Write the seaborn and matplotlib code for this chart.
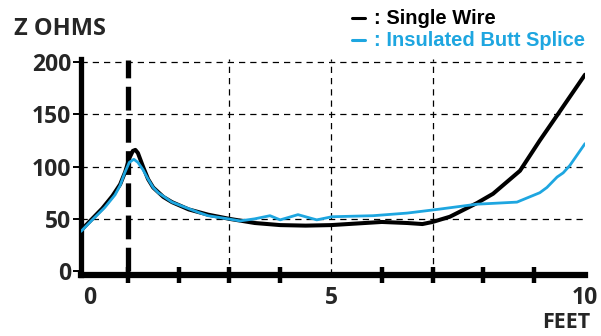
import matplotlib.pyplot as plt
import seaborn as sns
import numpy as np
import pandas as pd
from matplotlib.lines import Line2D

# distance along the line (feet) and impedance (ohms)
single_x = [0.08, 0.3, 0.5, 0.7, 0.85, 0.95, 1.03, 1.1, 1.15, 1.2, 1.3, 1.4, 1.5,
            1.7, 1.87, 2.2, 2.58, 3.0, 3.5, 4.0, 4.5, 5.0, 5.5, 6.0, 6.5, 6.8,
            7.0, 7.34, 7.87, 8.19, 8.72, 9.11, 9.45, 10.0]
single_z = [39, 50, 60, 72, 83, 95, 108, 115, 116, 113, 100, 88, 80,
            71, 66, 59, 54, 50, 46, 44, 43.5, 44, 45.5, 47, 46, 45,
            47, 52, 65, 74, 96, 125, 149, 188]

splice_x = [0.08, 0.3, 0.55, 0.75, 0.85, 0.94, 1.03, 1.12, 1.2, 1.3, 1.4, 1.5,
            1.6, 1.75, 1.87, 2.13, 2.4, 2.58, 2.97, 3.21, 3.5, 3.8, 4.0, 4.35,
            4.72, 5.02, 5.83, 6.5, 7.09, 7.87, 8.66, 9.11, 9.25, 9.45, 9.57,
            9.7, 10.0]
splice_z = [38, 49, 61, 73, 82, 94, 104, 107, 104, 97, 88, 80,
            75, 70, 66, 61, 56, 53, 50, 48, 50, 53, 49, 54,
            49, 52, 53, 55.5, 59, 64, 66, 75, 80, 90, 94,
            101, 122]

y_ticks = [0, 50, 100, 150, 200]
x_labels = ['0', '5', '10']
marker_x = 1.0
blue = '#1ea6e0'

sns.set_style("white")
plt.rcParams['font.family'] = ['Open Sans', 'DejaVu Sans']

fig = plt.figure(figsize=(6.01, 3.36), dpi=100)
ax = fig.add_axes([0.1348, 0.1824, 0.8386, 0.642])

# grid
for yv in y_ticks[1:]:
    ax.axhline(yv, color='black', lw=0.9, ls=(0, (5, 4)), zorder=1)
for xv in [3, 5, 7]:
    ax.axvline(xv, color='black', lw=0.9, ls=(0, (5, 4)), zorder=1)

ax.plot([marker_x, marker_x], [0, 202], color='black', lw=3.8, ls=(0, (4.5, 1.6)), zorder=2)

df1 = pd.DataFrame({'x': single_x, 'z': single_z})
df2 = pd.DataFrame({'x': splice_x, 'z': splice_z})
sns.lineplot(data=df1, x='x', y='z', ax=ax, color='black', lw=2.9, sort=False, zorder=3)
sns.lineplot(data=df2, x='x', y='z', ax=ax, color=blue, lw=2.0, sort=False, zorder=4)

ax.set_xlim(0.08, 10)
ax.set_ylim(-3.5, 203)
ax.set_xlabel('')
ax.set_ylabel('')

for s in ['top', 'right']:
    ax.spines[s].set_visible(False)
ax.spines['left'].set_linewidth(3.8)
ax.spines['bottom'].set_linewidth(4.5)
ax.spines['left'].set_color('black')
ax.spines['bottom'].set_color('black')

ax.set_yticks(y_ticks)
ax.set_yticklabels([str(v) for v in y_ticks])
ax.tick_params(axis='y', direction='out', length=6, width=1.4, color='black',
               labelsize=16.5, pad=1, left=True)
ax.set_xticks([0.25, 5, 10])
ax.set_xticklabels(x_labels)
ax.set_xticks(np.arange(1, 11), minor=True)
ax.tick_params(axis='x', which='major', length=0, labelsize=16.5, pad=8)
ax.tick_params(axis='x', which='minor', direction='inout', length=11, width=3.2,
               color='black', bottom=True)
for lab in ax.get_xticklabels() + ax.get_yticklabels():
    lab.set_fontweight('bold')

fig.text(0.023, 0.914, 'Z OHMS', fontsize=17, fontweight='bold', va='center', ha='left')
fig.text(0.982, 0.040, 'FEET', fontsize=15.5, fontweight='bold', va='center', ha='right')

# legend: short dash + text
fig.add_artist(Line2D([352 / 601, 365 / 601], [1 - 18 / 336, 1 - 18 / 336],
                      color='black', lw=2.2))
fig.add_artist(Line2D([352 / 601, 365 / 601], [1 - 40 / 336, 1 - 40 / 336],
                      color=blue, lw=2.2))
fig.text(374 / 601, 1 - 18 / 336, ': Single Wire', fontsize=14.5, fontweight='bold',
         family='Liberation Sans', color='black', va='center', ha='left')
fig.text(374 / 601, 1 - 40 / 336, ': Insulated Butt Splice', fontsize=14.5, fontweight='bold',
         family='Liberation Sans', color=blue, va='center', ha='left')

fig.savefig('out.png', dpi=100)
